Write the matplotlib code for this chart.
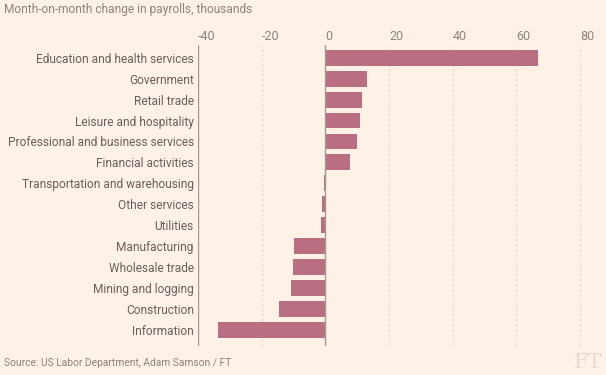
import matplotlib.pyplot as plt
import numpy as np

sectors = ["Education and health services", "Government", "Retail trade",
           "Leisure and hospitality", "Professional and business services",
           "Financial activities", "Transportation and warehousing",
           "Other services", "Utilities", "Manufacturing", "Wholesale trade",
           "Mining and logging", "Construction", "Information"]
change = [66.8, 13.0, 11.4, 10.8, 9.8, 7.9, -0.5, -1.1, -1.3,
          -9.9, -10.2, -10.9, -14.7, -33.7]
xticks = [-40, -20, 0, 20, 40, 60, 80]

bg = "#fff1e5"
bar_col = "#b96e82"
txt = "#66605c"


def main():
    fig = plt.figure(figsize=(6.06, 3.75), dpi=100, facecolor=bg)
    plt.rcParams['font.family'] = ['Roboto', 'DejaVu Sans']
    W, H = 606, 375
    # axes box in pixels: x -40 at 198, 80 at 580 ; y from 45 to 346
    x0, x1 = 198, 600
    y0, y1 = 45, 346
    ax = fig.add_axes([x0 / W, 1 - y1 / H, (x1 - x0) / W, (y1 - y0) / H])
    ax.set_facecolor(bg)
    px = (580 - 198) / 120.0
    ax.set_xlim(-40, -40 + (x1 - x0) / px)

    y = np.arange(len(sectors))
    ax.barh(y, change, height=0.76, color=bar_col, zorder=3)
    ax.set_ylim(len(sectors) - 0.5 + 0.25, -0.5 - 0.1)

    for t in xticks:
        if t == -40 or t == 0:
            ax.axvline(t, color="#a09a94", lw=1, zorder=4)
        else:
            ax.axvline(t, color="#e3d8cf", lw=0.9, ls=(0, (2, 2)), zorder=1)

    for s in ax.spines.values():
        s.set_visible(False)
    ax.set_xticks([])
    ax.set_yticks(y)
    ax.set_yticklabels(sectors, fontsize=8.6, color=txt)
    ax.tick_params(axis="y", length=0, pad=3)

    for t in xticks:
        ax.text(t, -0.5 - 0.1, "%d" % t, transform=ax.transData,
                ha="left", va="bottom", fontsize=9, color="#8a847e")
    # shift tick labels up
    for t in ax.texts:
        t.set_y(-1.0)
        t.set_va("center")

    fig.text(4 / W, 1 - 9 / H, "Month-on-month change in payrolls, thousands",
             fontsize=8.6, color="#8a847e", va="center", ha="left")
    fig.text(4 / W, 1 - 363 / H, "Source: US Labor Department, Adam Samson / FT",
             fontsize=7.4, color="#8a847e", va="center", ha="left")
    fig.text(602 / W, 1 - 362 / H, "FT", fontsize=15, color="#e6d9ce",
             family="DejaVu Serif", va="center", ha="right")

    fig.savefig("out.png", dpi=100, facecolor=bg)


if __name__ == "__main__":
    main()
